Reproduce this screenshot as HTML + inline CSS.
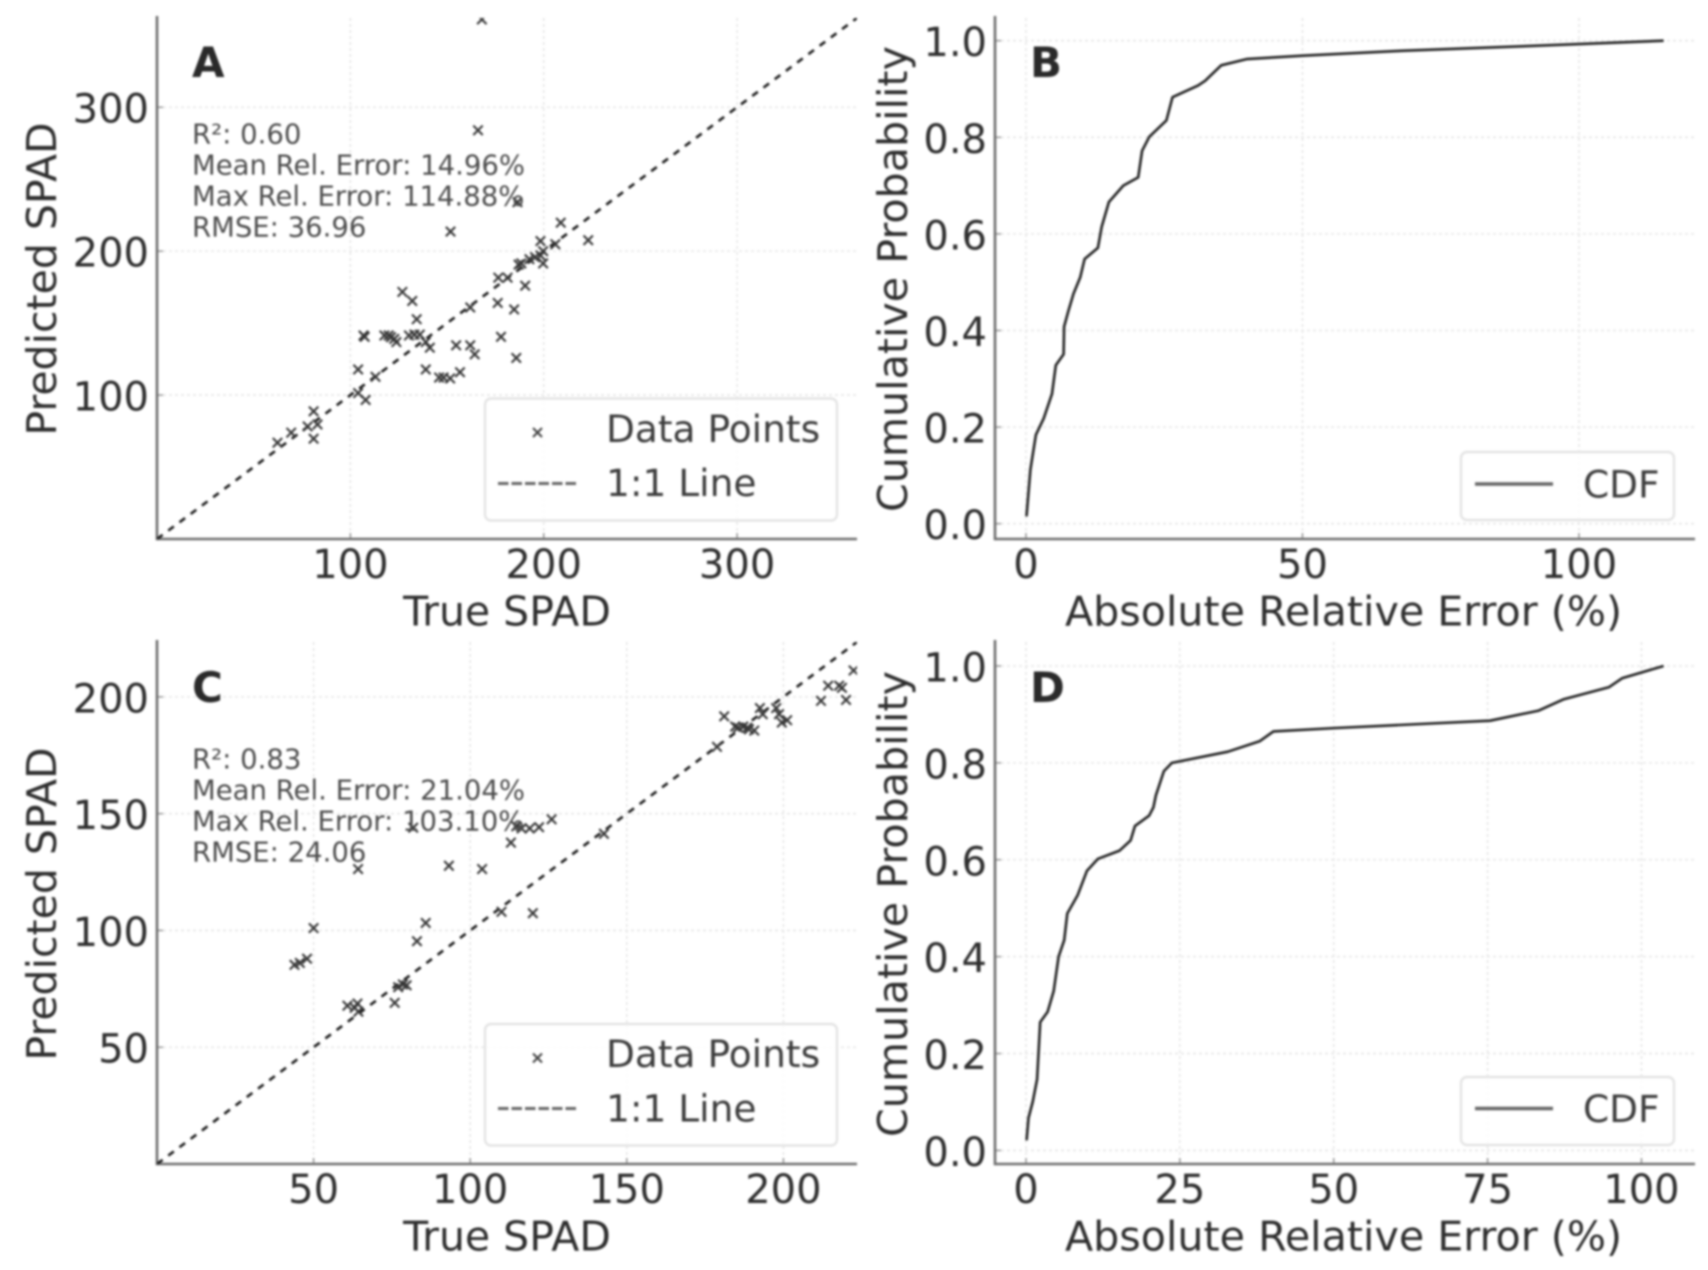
<!DOCTYPE html>
<html lang="en">
<head>
<meta charset="utf-8">
<title>SPAD prediction scatter and CDF panels</title>
<style>
  html, body { margin: 0; padding: 0; background: #fff; }
  #figure { display: block; filter: blur(1px); font-family: "DejaVu Sans", "Liberation Sans", sans-serif; }
  .tick-label { font-size: 40px; fill: #2e2e2e; }
  .axis-label { fill: #2e2e2e; }
  .note { font-size: 27.5px; fill: #4d4d4d; }
  .panel-letter { font-size: 42px; font-weight: bold; fill: #2a2a2a; }
  .legend-text { font-size: 37.5px; fill: #3c3c3c; }
  .legend-box { fill: #fff; fill-opacity: 0.85; stroke: #e4e4e4; stroke-width: 2.4; }
</style>
</head>
<body>
<svg id="figure" xmlns="http://www.w3.org/2000/svg" width="1708" height="1270" viewBox="0 0 1708 1270">
  <defs>
    <clipPath id="clip-a"><rect x="157" y="18" width="700" height="521"/></clipPath>
    <clipPath id="clip-c"><rect x="157" y="642" width="700" height="522"/></clipPath>
    <clipPath id="clip-b"><rect x="995" y="18" width="700" height="521"/></clipPath>
    <clipPath id="clip-d"><rect x="995" y="642" width="700" height="522"/></clipPath>
  </defs>
  <rect width="1708" height="1270" fill="#fff"/>

  <g id="panel-a">
    <g id="grid-a"></g>
    <g id="marks-a" clip-path="url(#clip-a)"></g>
    <text class="panel-letter" x="192" y="77">A</text>
    <text class="note" x="192" y="143.5">R²: 0.60</text>
    <text class="note" x="192" y="174.5">Mean Rel. Error: 14.96%</text>
    <text class="note" x="192" y="205.5">Max Rel. Error: 114.88%</text>
    <text class="note" x="192" y="236.5">RMSE: 36.96</text>
    <text class="axis-label" font-size="41" text-anchor="middle" x="507" y="625.5">True SPAD</text>
    <text class="axis-label" font-size="41" text-anchor="middle" transform="translate(56 279) rotate(-90)">Predicted SPAD</text>
    <g>
      <rect class="legend-box" x="485" y="398.5" width="352" height="122" rx="6"/>
      <g stroke="#444" stroke-width="2"><line x1="533" y1="428" x2="542" y2="437"/><line x1="542" y1="428" x2="533" y2="437"/></g>
      <text class="legend-text" x="606" y="442">Data Points</text>
      <line x1="498" y1="483.5" x2="577" y2="483.5" stroke="#666" stroke-width="3" stroke-dasharray="10.5 3"/>
      <text class="legend-text" x="606" y="496">1:1 Line</text>
    </g>
  </g>

  <g id="panel-b">
    <g id="grid-b"></g>
    <g id="marks-b" clip-path="url(#clip-b)"></g>
    <text class="panel-letter" x="1030" y="77">B</text>
    <text class="axis-label" font-size="41.2" text-anchor="middle" x="1343.5" y="625.5">Absolute Relative Error (%)</text>
    <text class="axis-label" font-size="41.2" text-anchor="middle" transform="translate(907 279) rotate(-90)">Cumulative Probability</text>
    <g>
      <rect class="legend-box" x="1461" y="452" width="213" height="68" rx="6"/>
      <line x1="1475" y1="484" x2="1553" y2="484" stroke="#666" stroke-width="3.5"/>
      <text class="legend-text" x="1583" y="497.5">CDF</text>
    </g>
  </g>

  <g id="panel-c">
    <g id="grid-c"></g>
    <g id="marks-c" clip-path="url(#clip-c)"></g>
    <text class="panel-letter" x="192" y="702">C</text>
    <text class="note" x="192" y="768.5">R²: 0.83</text>
    <text class="note" x="192" y="799.5">Mean Rel. Error: 21.04%</text>
    <text class="note" x="192" y="830.5">Max Rel. Error: 103.10%</text>
    <text class="note" x="192" y="861.5">RMSE: 24.06</text>
    <text class="axis-label" font-size="41" text-anchor="middle" x="507" y="1250.5">True SPAD</text>
    <text class="axis-label" font-size="41" text-anchor="middle" transform="translate(56 904) rotate(-90)">Predicted SPAD</text>
    <g>
      <rect class="legend-box" x="485" y="1024" width="352" height="121.5" rx="6"/>
      <g stroke="#444" stroke-width="2"><line x1="533" y1="1057.5" x2="542" y2="1066.5" transform="translate(0 -4)"/><line x1="542" y1="1057.5" x2="533" y2="1066.5" transform="translate(0 -4)"/></g>
      <text class="legend-text" x="606" y="1067">Data Points</text>
      <line x1="498" y1="1108.5" x2="577" y2="1108.5" stroke="#666" stroke-width="3" stroke-dasharray="10.5 3"/>
      <text class="legend-text" x="606" y="1121.5">1:1 Line</text>
    </g>
  </g>

  <g id="panel-d">
    <g id="grid-d"></g>
    <g id="marks-d" clip-path="url(#clip-d)"></g>
    <text class="panel-letter" x="1030" y="702">D</text>
    <text class="axis-label" font-size="41.2" text-anchor="middle" x="1343.5" y="1250.5">Absolute Relative Error (%)</text>
    <text class="axis-label" font-size="41.2" text-anchor="middle" transform="translate(907 904) rotate(-90)">Cumulative Probability</text>
    <g>
      <rect class="legend-box" x="1461" y="1077" width="213" height="68" rx="6"/>
      <line x1="1475" y1="1108.5" x2="1553" y2="1108.5" stroke="#666" stroke-width="3.5"/>
      <text class="legend-text" x="1583" y="1122">CDF</text>
    </g>
  </g>
</svg>

<script>
// ---- Panel A data ----
const trueSpadA = [168,166,186.4,151.8,208.8,223,198.3,206,199.7,195.5,192.6,188.4,187,199.7,198.3,176.5,181.3,190.4,126.9,132,162,176.2,184.7,134.3,177.9,185.8,106.8,107.4,117.6,119.8,121,123.8,130.3,133.1,135.9,139,141.1,122.7,154.7,162,164.3,139,145.9,148.2,151.6,156.7,104,113,104,107.9,81,83,77.9,81,69.4,62.3];
const predSpadA = [361,284,234,213.6,219.8,207.6,207,204.8,200,195.8,194.4,191.5,190.7,191.5,197,181.6,181.6,176,171.7,165.4,160.9,164,159.5,152.7,140.5,125.8,141.4,140.5,141.4,141.4,140.2,136.8,141.4,142,142,136.8,132.9,139,134.6,134.6,128.3,117.8,112.2,112.2,111.6,115.9,117.8,112.7,101.4,96.6,88.7,79.6,78.2,69.7,73.9,66.9];
const limitA = [0, 362];
const xTicksA = [100, 200, 300];
const yTicksA = [100, 200, 300];

// ---- Panel C data ----
const trueSpadC = [222.4,214.3,217.8,218.7,212,220,197.7,192.5,193.4,198.6,201.2,199.5,181.1,184.6,185.5,187.2,188.5,190.7,189,178.8,142.7,126,122,119,116.4,113,114.7,81.8,93.2,103.8,64.2,110,120,85.8,83,50,47.9,45.6,43.9,79.7,78.5,77,75.9,60.8,64,64.3,63.1];
const predSpadC = [211.3,204.8,204.8,203.9,198.3,198.7,195.2,195.2,192.6,192.6,190,189,191.7,187.3,186.8,187.3,186.8,185.6,186.1,178.6,141.4,147.6,144.2,143.7,143.7,137.6,144.6,144,127.7,126.3,126.3,108,107.4,103.2,95.4,101,87.9,86.1,85.3,76.5,76.9,75.7,69,67.8,68.7,65.2,66.9];
const limitC = [0, 223.5];
const xTicksC = [50, 100, 150, 200];
const yTicksC = [50, 100, 150, 200];

// ---- Panel B data ----
const errorB = [0.1,0.8,1.8,3.2,4.7,5.4,6.8,6.9,7.7,8.6,9.8,10.6,13,13.7,15,17.6,20.3,21,22.3,25.4,26.5,31.1,32.4,35.3,39.9,50,67.8,100,115.3];
const probB = [0.015,0.112,0.184,0.218,0.269,0.328,0.351,0.408,0.442,0.476,0.51,0.548,0.571,0.615,0.666,0.7,0.717,0.772,0.801,0.835,0.883,0.907,0.917,0.949,0.962,0.969,0.979,0.993,1];
const xLimitB = [-5.6, 120.98];
const yLimitB = [-0.0317, 1.047];
const xTicksB = [0, 50, 100];
const yTicksB = [0, 0.2, 0.4, 0.6, 0.8, 1];

// ---- Panel D data ----
const errorD = [0.1,0.4,1.1,1.8,2.3,3.5,4.5,5.3,6.2,6.7,8.4,9.9,11.7,15.2,17,17.7,20,20.7,21.1,22.4,23.7,32.8,38,40.2,50.4,75.4,83.3,87.3,94.7,96.9,103.6];
const probD = [0.021,0.067,0.101,0.147,0.265,0.286,0.329,0.4,0.434,0.489,0.527,0.577,0.602,0.619,0.64,0.67,0.691,0.708,0.733,0.783,0.8,0.823,0.845,0.865,0.872,0.887,0.908,0.931,0.956,0.975,1];
const xLimitD = [-5.04, 108.7];
const yLimitD = [-0.028, 1.0495];
const xTicksD = [0, 25, 50, 75, 100];
const yTicksD = [0, 0.2, 0.4, 0.6, 0.8, 1];

const SVG_NS = 'http://www.w3.org/2000/svg';

function scale(domain, range) {
  return function (v) {
    return range[0] + (v - domain[0]) / (domain[1] - domain[0]) * (range[1] - range[0]);
  };
}

function svgLine(parent, x1, y1, x2, y2, stroke, width, dash) {
  const el = document.createElementNS(SVG_NS, 'line');
  el.setAttribute('x1', x1);
  el.setAttribute('y1', y1);
  el.setAttribute('x2', x2);
  el.setAttribute('y2', y2);
  el.setAttribute('stroke', stroke);
  el.setAttribute('stroke-width', width);
  if (dash) el.setAttribute('stroke-dasharray', dash);
  parent.appendChild(el);
  return el;
}

function drawAxes(id, box, sx, sy, xTicks, yTicks, yFormat) {
  const g = document.getElementById('grid-' + id);
  xTicks.forEach(function (t) {
    const px = sx(t);
    const grid = svgLine(g, px, box.top, px, box.bottom, '#e9e9e9', 1.8, '3 3');
    
    
    const tick = svgLine(g, px, box.bottom, px, box.bottom - 6, '#999', 1.5);
    
    
    const label = document.createElementNS(SVG_NS, 'text');
    
    
    label.setAttribute('class', 'tick-label');
    label.setAttribute('text-anchor', 'middle');
    label.setAttribute('x', px);
    label.setAttribute('y', box.bottom + 39);
    label.textContent = String(t);
    g.appendChild(label);
  });
  yTicks.forEach(function (t) {
    const py = sy(t);
    const grid = svgLine(g, box.left, py, box.right, py, '#e9e9e9', 1.8, '3 3');
    
    
    const tick = svgLine(g, box.left, py, box.left + 6, py, '#999', 1.5);
    
    
    const label = document.createElementNS(SVG_NS, 'text');
    
    
    label.setAttribute('class', 'tick-label');
    label.setAttribute('text-anchor', 'end');
    label.setAttribute('x', box.left - 8);
    label.setAttribute('y', py + 15.5);
    label.textContent = yFormat(t);
    g.appendChild(label);
  });
  const left = svgLine(g, box.left, box.top - 2, box.left, box.bottom + 1.3, '#6e6e6e', 2.6);
  
  
  const bottom = svgLine(g, box.left, box.bottom, box.right, box.bottom, '#6e6e6e', 2.6);
  
  
}

function drawScatter(id, box, limit, xs, ys, xTicks, yTicks) {
  const sx = scale(limit, [box.left, box.right]);
  const sy = scale(limit, [box.bottom, box.top]);
  drawAxes(id, box, sx, sy, xTicks, yTicks, function (t) { return String(t); });
  const g = document.getElementById('marks-' + id);
  const ref = svgLine(g, sx(limit[0]), sy(limit[0]), sx(limit[1]), sy(limit[1]), '#1c1c1c', 2.6, '7 7');
  
  
  xs.forEach(function (v, i) {
    const px = sx(v);
    const py = sy(ys[i]);
    const r = 4.7;
    const mark = document.createElementNS(SVG_NS, 'path');
    
    
    mark.setAttribute('d', 'M' + (px - r) + ' ' + (py - r) + 'L' + (px + r) + ' ' + (py + r) + 'M' + (px + r) + ' ' + (py - r) + 'L' + (px - r) + ' ' + (py + r));
    mark.setAttribute('stroke', '#383838');
    mark.setAttribute('stroke-width', '2.1');
    mark.setAttribute('fill', 'none');
    g.appendChild(mark);
  });
}

function drawCdf(id, box, xLimit, yLimit, xs, ys, xTicks, yTicks) {
  const sx = scale(xLimit, [box.left, box.right]);
  const sy = scale(yLimit, [box.bottom, box.top]);
  drawAxes(id, box, sx, sy, xTicks, yTicks, function (t) { return t.toFixed(1); });
  const g = document.getElementById('marks-' + id);
  const d = xs.map(function (v, i) {
    return (i ? 'L' : 'M') + sx(v).toFixed(1) + ' ' + sy(ys[i]).toFixed(1);
  }).join('');
  const curve = document.createElementNS(SVG_NS, 'path');
  
  
  curve.setAttribute('d', d);
  curve.setAttribute('fill', 'none');
  curve.setAttribute('stroke', '#222');
  curve.setAttribute('stroke-width', '2.6');
  curve.setAttribute('stroke-linejoin', 'round');
  g.appendChild(curve);
}

drawScatter('a', { left: 157, right: 857, top: 18, bottom: 539 }, limitA, trueSpadA, predSpadA, xTicksA, yTicksA);
drawScatter('c', { left: 157, right: 857, top: 642, bottom: 1164 }, limitC, trueSpadC, predSpadC, xTicksC, yTicksC);
drawCdf('b', { left: 995, right: 1695, top: 18, bottom: 539 }, xLimitB, yLimitB, errorB, probB, xTicksB, yTicksB);
drawCdf('d', { left: 995, right: 1695, top: 642, bottom: 1164 }, xLimitD, yLimitD, errorD, probD, xTicksD, yTicksD);
</script>
</body>
</html>
